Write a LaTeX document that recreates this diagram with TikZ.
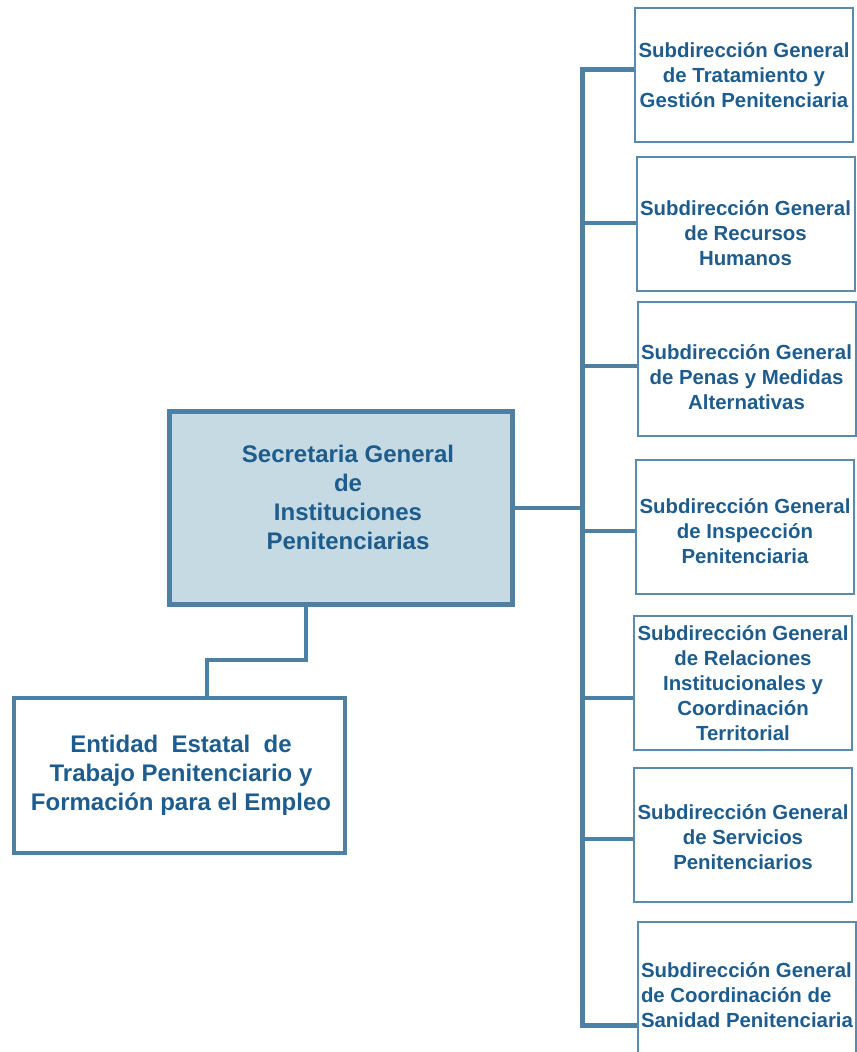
\documentclass[tikz,border=0pt]{standalone}
\usepackage{fontspec}
\setmainfont{Liberation Sans}
\usetikzlibrary{calc,positioning}
\definecolor{steel}{HTML}{4E80A3}
\definecolor{navy}{HTML}{1D5C8C}
\definecolor{mist}{HTML}{C6DAE3}
\definecolor{frame}{HTML}{5A8BAE}

\tikzset{
  link/.style={steel,line width=2pt},
  trunk/.style={steel,line width=2.5pt,line join=miter},
  subbox/.style={draw=frame,line width=1pt,minimum width=109pt,minimum height=67pt},
  subtext/.style={align=center,inner sep=1pt,text=navy,font=\bfseries\fontsize{10.2}{12.5}\selectfont},
  headbox/.style={draw=steel,line width=2.5pt,fill=mist,minimum width=171.5pt,minimum height=96.5pt},
  bigtext/.style={align=center,text=navy,font=\bfseries\fontsize{12}{14.5}\selectfont},
  entbox/.style={draw=steel,line width=2pt,minimum width=165.5pt,minimum height=77.5pt}
}

\begin{document}
\begin{tikzpicture}[x=0.5pt,y=-0.5pt]
\useasboundingbox (0,0) rectangle (856,1052);

\node[headbox] (sg) at (341,508) {};
\node[bigtext] (sgt) at ($(sg.center)+(7,-11)$) {Secretaria General\\de\\Instituciones\\Penitenciarias};
\node[entbox] (ee) at (179,775) {};
\node[bigtext] (eet) at ($(ee.center)+(2,0)$) {Entidad\ \ Estatal\ \ de\\Trabajo Penitenciario y\\Formación para el Empleo};

\foreach \i/\cx/\cy/\dy/\txt in {
  1/744/75.5/0/{Subdirección General\\de Tratamiento y\\Gestión Penitenciaria},
  2/745.5/224/9/{Subdirección General\\de Recursos\\Humanos},
  3/746.5/369.5/8/{Subdirección General\\de Penas y Medidas\\Alternativas},
  4/745/526.5/5/{Subdirección General\\de Inspección\\Penitenciaria},
  5/743/683/0/{Subdirección General\\de Relaciones\\Institucionales y\\Coordinación\\Territorial},
  6/743/835/2/{Subdirección General\\de Servicios\\Penitenciarios}}{
  \node[subbox] (b\i) at (\cx,\cy) {};
  \node[subtext] (s\i) at ($(b\i.center)+(0,\dy)$) {\txt};
}
\node[subbox] (b7) at (747,989) {};
\node[subtext,align=left] (s7) at ($(b7.center)+(0,6)$) {Subdirección General\\de Coordinación de\\Sanidad Penitenciaria};

% branch points on the trunk
\foreach \i/\yb in {1/70,2/223,3/366,4/531,5/698,6/839,7/1025}{
  \coordinate (t\i) at (582,\yb);
}
\draw[trunk] (t1 -| b1.west) -- (t1) -- (t7) -- (t7 -| b7.west);
\foreach \i in {2,...,6}{
  \draw[link] (t\i) -- (t\i -| b\i.west);
}
\draw[link] (sg.east) -- (sg.east -| t1);

\coordinate (bend) at (306,660);
\draw[link] (bend |- sg.south) -- (bend) -| ($(ee.north)+(28,0)$);

\end{tikzpicture}
\end{document}
